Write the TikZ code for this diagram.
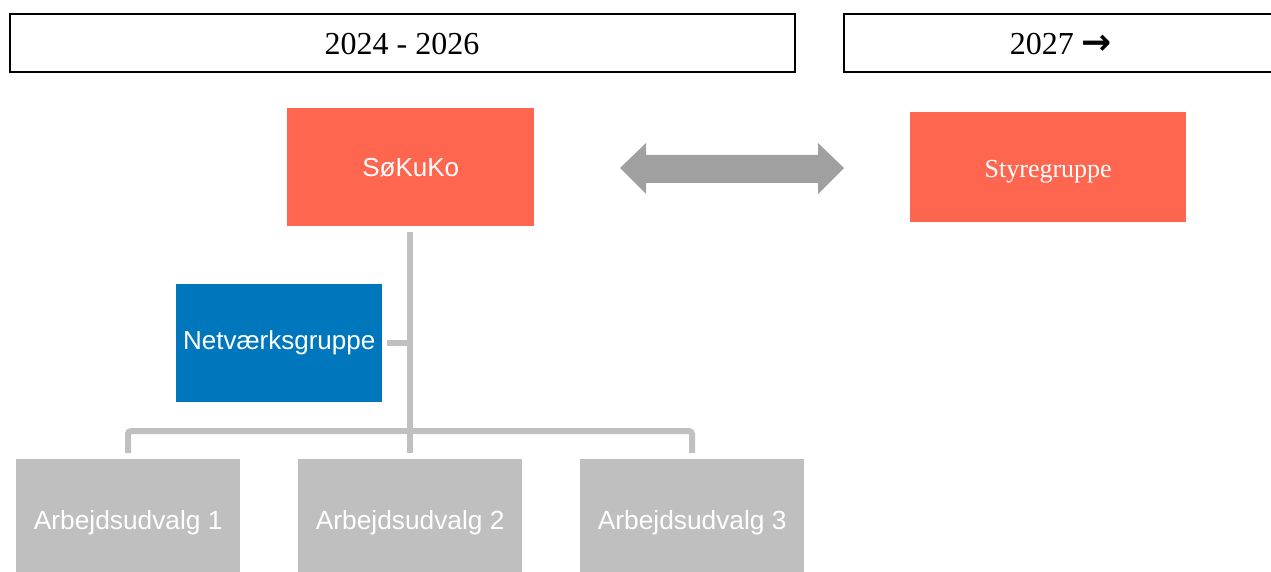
\documentclass[tikz,border=0pt]{standalone}
\usepackage{fontspec}
\setmainfont{Liberation Serif}
\setsansfont{Liberation Sans}
\newfontfamily\arrowfont{DejaVu Sans}
\definecolor{coral}{HTML}{FF6650}
\definecolor{netblue}{HTML}{0077BD}
\definecolor{boxgray}{HTML}{BFBFBF}
\definecolor{linegray}{HTML}{C0C0C0}
\definecolor{arrowgray}{HTML}{A0A0A0}
\newcommand{\lowertext}[2]{\raisebox{-#1}[\height][\depth]{#2}}
\tikzset{
  yearbox/.style={draw=black, line width=2pt, fill=white, inner sep=0pt},
  yeartext/.style={font=\fontsize{32}{38}\selectfont},
  orgbox/.style={inner sep=0pt, text=white, anchor=north west},
  subbox/.style={orgbox, fill=boxgray, minimum width=224pt, minimum height=120pt, font=\sffamily\fontsize{26.3}{31}\selectfont},
  conn/.style={draw=linegray, line width=6pt},
}
\begin{document}
\begin{tikzpicture}[x=1pt, y=-1pt]
\useasboundingbox (0,0) rectangle (1271,572);
% year boxes
\draw[yearbox] (10,14) rectangle (795,72);
\node[yeartext] (y1) at (402,44) {2024 - 2026};
\draw[yearbox] (844,14) rectangle (1280,72);
\node[yeartext] (y2) at (1061,44) {2027 {\arrowfont\bfseries\fontsize{36}{40}\selectfont →}};
% boxes
\node[orgbox, fill=coral, minimum width=247pt, minimum height=118pt, font=\sffamily\fontsize{26}{31}\selectfont] (sok) at (287,108) {SøKuKo};
\node[orgbox, fill=coral, minimum width=276pt, minimum height=110pt, font=\fontsize{26}{31}\selectfont] (sty) at (910,112) {\lowertext{4pt}{Styregruppe}};
\node[orgbox, fill=netblue, minimum width=206pt, minimum height=118pt, font=\sffamily\fontsize{26}{31}\selectfont] (net) at (176,284) {Netværksgruppe};
\node[subbox] (a1) at (16,459) {\lowertext{3pt}{Arbejdsudvalg 1}};
\node[subbox] (a2) at (298,459) {\lowertext{3pt}{Arbejdsudvalg 2}};
\node[subbox] (a3) at (580,459) {\lowertext{3pt}{Arbejdsudvalg 3}};
% double arrow
\fill[arrowgray] (620,168) -- (646,143) -- (646,155) -- (818,155) -- (818,143) -- (844,168)
  -- (818,194) -- (818,183) -- (646,183) -- (646,194) -- cycle;
% connectors
\coordinate (top) at (410,232);
\coordinate (netj) at (410,343);
\coordinate (netend) at (387,343);
\coordinate (l) at (128,431);
\coordinate (r) at (692,431);
\coordinate (ld) at (128,453);
\coordinate (md) at (410,453);
\coordinate (rd) at (692,453);
\draw[conn] (top) -- (md);
\draw[conn] (netj) -- (netend);
\draw[conn, rounded corners=3pt] (ld) -- (l) -- (r) -- (rd);
\end{tikzpicture}
\end{document}
